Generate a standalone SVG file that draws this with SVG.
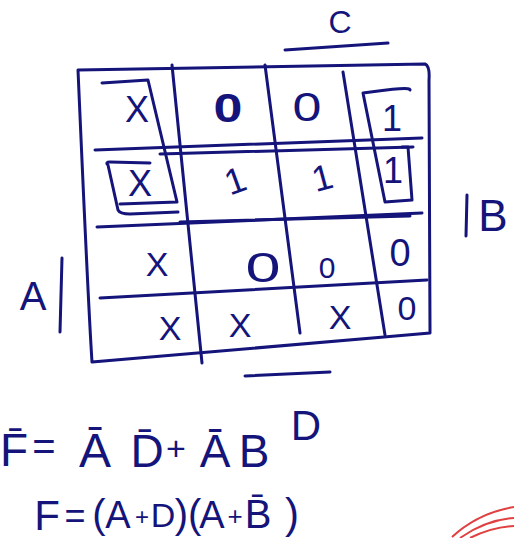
<svg xmlns="http://www.w3.org/2000/svg" width="514" height="538" viewBox="0 0 514 538">
<style>
.ink{fill:none;stroke:#14147a;stroke-width:3;stroke-linecap:round;stroke-linejoin:round}
.t{font-family:"Liberation Sans","DejaVu Sans",sans-serif;fill:#14147a;text-anchor:middle}
.red{fill:none;stroke:#e04040;stroke-width:2}
</style>
<rect width="514" height="538" fill="#ffffff"/>
<g id="grid">
<path class="ink" d="M78 70 L425 64 Q430 66 429 80 L430 333 L384 337 L92 362 Q88 300 78 70 Z"/>
<path class="ink" d="M172 65 L202 363"/>
<path class="ink" d="M265 65 L300 333"/>
<path class="ink" d="M343 72 L385 335"/>
<path class="ink" d="M95 150 L422 138"/>
<path class="ink" d="M160 154 L413 147"/>
<path class="ink" d="M97 227 L422 213"/>
<path class="ink" d="M180 222 L410 216"/>
<path class="ink" d="M100 298 L427 280"/>
</g>
<g id="loops">
<path class="ink" d="M102 83 L148 80 L177 202 L120 204"/>
<path class="ink" d="M108 165 Q105 162 110 162 L150 163 M108 165 L118 210 Q120 214 130 214 L178 212"/>
<path class="ink" d="M410 90 Q412 86 363 93 L385 202 L412 200 L408 147 L402 147"/>
</g>
<g id="cells">
<text class="t" x="137" y="122" font-size="36">X</text>
<text class="t" x="228" y="122" font-size="40" font-weight="bold" transform="translate(228,0) scale(1.3,1) translate(-228,0)">0</text>
<text class="t" x="307" y="121" font-size="40" transform="translate(307,0) scale(1.3,1) translate(-307,0)">0</text>
<text class="t" x="392" y="131" font-size="36">1</text>
<text class="t" x="140" y="196" font-size="36">X</text>
<text class="t" x="235" y="193" font-size="36" transform="rotate(-20 235 180)">1</text>
<text class="t" x="322" y="190" font-size="36" transform="rotate(-15 322 177)">1</text>
<text class="t" x="393" y="183" font-size="36">1</text>
<text class="t" x="157" y="276" font-size="34">X</text>
<text class="t" x="263" y="282" font-size="42" transform="translate(263,0) scale(1.5,1) translate(-263,0)">0</text>
<text class="t" x="327" y="278" font-size="30">0</text>
<text class="t" x="400" y="266" font-size="38">0</text>
<text class="t" x="170" y="340" font-size="34">X</text>
<text class="t" x="240" y="337" font-size="34">X</text>
<text class="t" x="340" y="329" font-size="34">X</text>
<text class="t" x="407" y="320" font-size="34">0</text>
</g>
<g id="labels">
<text class="t" x="340" y="33" font-size="32">C</text>
<path class="ink" d="M285 50 L388 43"/>
<path class="ink" d="M467 195 L466 236"/>
<text class="t" x="493" y="231" font-size="44">B</text>
<text class="t" x="33" y="310" font-size="40">A</text>
<path class="ink" d="M62 258 L60 332"/>
<path class="ink" d="M245 376 L330 372"/>
<text class="t" x="306" y="440" font-size="42">D</text>
</g>
<g id="equations">
<text class="t" x="14" y="466" font-size="46">F&#x304;</text>
<text class="t" x="44" y="460" font-size="40">=</text>
<text class="t" x="95" y="467" font-size="48">A&#x304;</text>
<text class="t" x="147" y="467" font-size="46">D&#x304;</text>
<text class="t" x="176" y="460" font-size="34">+</text>
<text class="t" x="215" y="467" font-size="46">A&#x304;</text>
<text class="t" x="254" y="467" font-size="46">B</text>
<text class="t" x="47" y="530" font-size="42">F</text>
<text class="t" x="75" y="528" font-size="36">=</text>
<text class="t" x="99" y="528" font-size="40">(</text>
<text class="t" x="118" y="528" font-size="38">A</text>
<text class="t" x="142" y="525" font-size="24">+</text>
<text class="t" x="163" y="527" font-size="34">D</text>
<text class="t" x="188" y="528" font-size="40">)(</text>
<text class="t" x="212" y="528" font-size="38">A</text>
<text class="t" x="235" y="525" font-size="26">+</text>
<text class="t" x="258" y="528" font-size="40">B&#x304;</text>
<text class="t" x="292" y="528" font-size="42">)</text>
</g>
<g id="marks">
<path class="red" d="M452 537 Q478 513 514 507"/>
<path class="red" d="M460 538 Q486 520 514 518"/>
<path class="red" d="M470 538 Q492 527 514 526"/>
</g>
</svg>
